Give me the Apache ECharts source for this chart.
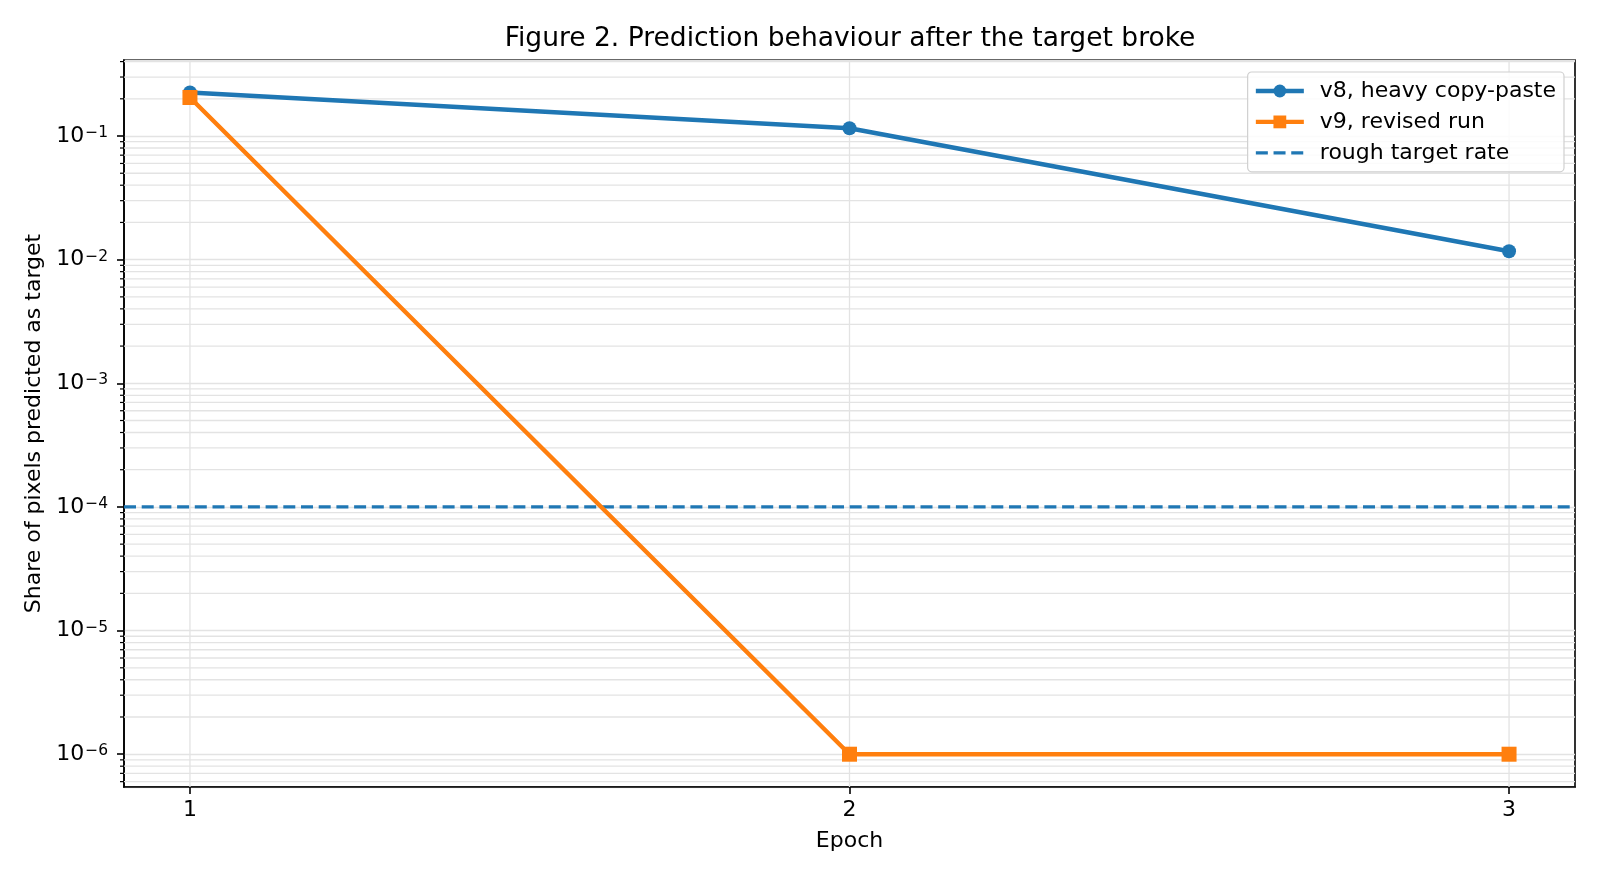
<!DOCTYPE html>
<html>
<head>
<meta charset="utf-8">
<title>Figure 2</title>
<script src="https://cdn.jsdelivr.net/npm/echarts@6/dist/echarts.min.js"></script>
<style>
  html, body { margin: 0; padding: 0; background: #fff; }
  #chart { width: 1600px; height: 880px; }
</style>
</head>
<body>
<div id="chart"></div>
<script>
// data
const epochs = [1, 2, 3]
const v8Share = [0.225, 0.1155, 0.0117]
const v9Share = [0.205, 1e-6, 1e-6]
const targetRate = 1e-4
const xRange = [0.9, 3.1]
const yRange = [5.43e-7, 0.412]

// minor log ticks 2..9 x 10^n inside the y range
const minorValues = []
for (let e = -7; e <= -1; e++) {
  for (let m = 2; m <= 9; m++) {
    const v = m * Math.pow(10, e)
    if (v > yRange[0] && v < yRange[1]) minorValues.push(v)
  }
}

const font = 'DejaVu Sans'
const blue = '#1f77b4'
const orange = '#ff7f0e'
const gridColor = '#e3e3e3'
const dash = [12, 5.7]

const chart = echarts.init(document.getElementById('chart'))

chart.setOption({
  animation: false,
  backgroundColor: '#fff',
  textStyle: { fontFamily: font, color: '#000' },
  title: {
    text: 'Figure 2. Prediction behaviour after the target broke',
    left: 845,
    textAlign: 'center',
    top: 21,
    textStyle: { fontFamily: font, fontSize: 26.5, fontWeight: 'normal', color: '#000' }
  },
  grid: {
    left: 124,
    right: 25,
    top: 60,
    bottom: 93,
    show: true,
    borderColor: '#000',
    borderWidth: 1.6,
    backgroundColor: 'transparent'
  },
  legend: {
    right: 36,
    top: 72,
    orient: 'vertical',
    itemWidth: 48,
    itemHeight: 16,
    itemGap: 8.9,
    padding: [8, 8, 8, 6],
    borderColor: '#d0d0d0',
    borderWidth: 1.2,
    borderRadius: 4,
    backgroundColor: 'rgba(255,255,255,0.85)',
    lineStyle: { width: 4.4 },
    textStyle: { fontFamily: font, fontSize: 22, color: '#000', padding: [0, 0, 0, 11] },
    data: [
      { name: 'v8, heavy copy-paste' },
      { name: 'v9, revised run' },
      {
        name: 'rough target rate',
        itemStyle: { color: 'transparent', borderWidth: 0 },
        lineStyle: { width: 3.3, type: dash }
      }
    ]
  },
  xAxis: {
    type: 'value',
    min: xRange[0],
    max: xRange[1],
    name: 'Epoch',
    nameLocation: 'middle',
    nameGap: 43,
    nameTextStyle: { fontFamily: font, fontSize: 22, color: '#000' },
    axisLine: { show: true, lineStyle: { color: '#000', width: 1.6 } },
    axisTick: { show: true, length: 7, lineStyle: { color: '#000', width: 1.6 }, customValues: epochs },
    axisLabel: { fontFamily: font, fontSize: 22, color: '#000', margin: 12, customValues: epochs },
    splitLine: { show: false }
  },
  yAxis: {
    type: 'log',
    logBase: 10,
    min: yRange[0],
    max: yRange[1],
    name: 'Share of pixels predicted as target',
    nameLocation: 'middle',
    nameGap: 75,
    nameTextStyle: { fontFamily: font, fontSize: 22, color: '#000' },
    axisLine: { show: true, lineStyle: { color: '#000', width: 1.6 } },
    axisTick: { show: true, length: 7, lineStyle: { color: '#000', width: 1.6 } },
    axisLabel: {
      margin: 16,
      showMinLabel: false,
      showMaxLabel: false,
      formatter: function (value) {
        const e = Math.round(Math.log10(value))
        return '{b|10}{s|\u2212' + Math.abs(e) + '}'
      },
      rich: {
        b: { fontFamily: font, fontSize: 22, color: '#000' },
        s: { fontFamily: font, fontSize: 15.5, color: '#000', verticalAlign: 'top', padding: [0, 0, 0, 1] }
      }
    },
    splitLine: { show: true, lineStyle: { color: gridColor, width: 1.3 } }
  },
  series: [
    {
      // minor log grid and minor ticks
      type: 'custom',
      silent: true,
      z: 1,
      clip: false,
      data: minorValues.map(v => [xRange[0], v]),
      renderItem: function (params, api) {
        const v = api.value(1)
        const a = api.coord([xRange[0], v])
        const b = api.coord([xRange[1], v])
        return {
          type: 'group',
          children: [
            { type: 'line', shape: { x1: a[0], y1: a[1], x2: b[0], y2: b[1] }, style: { stroke: gridColor, lineWidth: 1.3 } },
            { type: 'line', shape: { x1: a[0] - 4, y1: a[1], x2: a[0], y2: a[1] }, style: { stroke: '#000', lineWidth: 1.2 } }
          ]
        }
      }
    },
    {
      // vertical grid at epochs
      type: 'custom',
      silent: true,
      z: 1,
      data: epochs.map(x => [x, yRange[0]]),
      renderItem: function (params, api) {
        const x = api.value(0)
        const a = api.coord([x, yRange[0]])
        const b = api.coord([x, yRange[1]])
        return { type: 'line', shape: { x1: a[0], y1: a[1], x2: b[0], y2: b[1] }, style: { stroke: gridColor, lineWidth: 1.3 } }
      }
    },
    {
      name: 'rough target rate',
      type: 'line',
      z: 3,
      symbol: 'none',
      data: xRange.map(x => [x, targetRate]),
      lineStyle: { color: blue, width: 3.3, type: dash },
      itemStyle: { color: blue }
    },
    {
      name: 'v8, heavy copy-paste',
      type: 'line',
      z: 4,
      symbol: 'circle',
      symbolSize: 14,
      data: epochs.map((x, i) => [x, v8Share[i]]),
      lineStyle: { color: blue, width: 4.4 },
      itemStyle: { color: blue }
    },
    {
      name: 'v9, revised run',
      type: 'line',
      z: 5,
      symbol: 'rect',
      symbolSize: 15,
      data: epochs.map((x, i) => [x, v9Share[i]]),
      lineStyle: { color: orange, width: 4.4 },
      itemStyle: { color: orange }
    }
  ]
})
</script>
</body>
</html>
